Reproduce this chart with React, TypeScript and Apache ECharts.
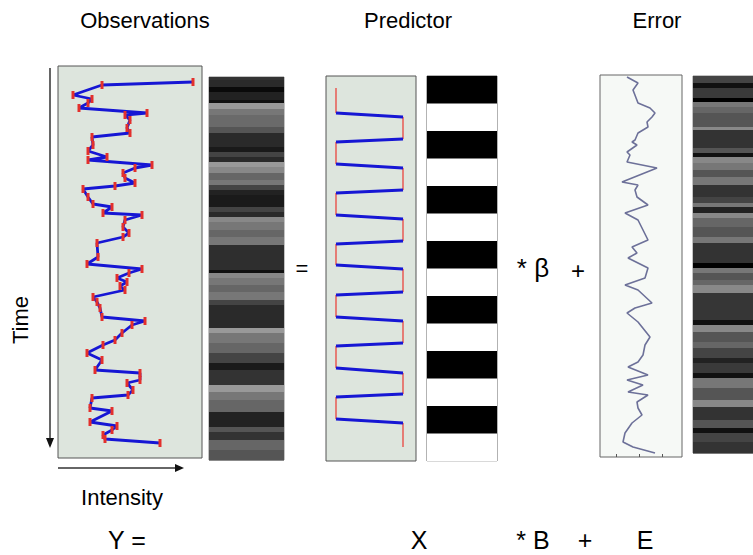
import React, { useEffect, useRef } from "react";
import * as echarts from "echarts";

// Observations: intensity (relative units) vs time (relative units)
const obsIntensity = [135,44,15,34,30,21,89,67,72,69,72,34,35,30,49,30,94,77,65,67,77,57,25,30,35,54,45,84,67,65,71,65,39,40,29,84,71,59,69,62,67,35,39,42,44,87,74,64,57,45,29,44,37,82,82,69,75,70,34,32,54,32,59,54,45,47,102];
const obsTime = [16,19,29,33,37,42,47,49,54,62,67,71,79,85,91,94,99,102,107,112,117,120,123,131,138,141,147,149,154,161,167,171,177,191,198,203,207,212,216,220,224,231,236,242,251,255,259,267,274,279,287,294,304,307,314,317,324,329,332,342,345,356,360,364,369,373,377];

// Observation image strip: band edges (time) and grey levels
const obsStripEdges = [0,3,10,15,23,26,32,38,50,56,70,75,80,85,90,96,103,108,113,118,130,135,140,145,153,160,168,193,196,201,208,215,223,228,251,256,266,276,286,293,308,315,323,335,350,355,363,373,383];
const obsStripGray = [51,42,10,34,17,153,119,106,85,42,26,68,42,153,136,102,119,68,34,26,68,42,136,119,102,119,46,17,136,119,102,119,68,42,153,119,102,68,26,51,153,119,102,34,85,51,102,85];

// Predictor (boxcar): level per block, block start / end times
const predLevel = [0,1,0,1,0,1,0,1,0,1,0,1,0,1];
const predStart = [12,41,66,92,117,143,168,193,219,245,270,297,321,347];
const predEnd = [37,63,88,114,139,165,189,216,241,267,292,318,343,371];

// Error: value vs time
const errValue = [27,38,33,38,50,55,52,47,48,38,35,32,37,27,30,27,57,22,38,35,37,48,25,38,48,32,37,28,48,45,25,38,52,35,27,38,50,45,43,38,28,48,27,43,28,48,37,38,42,32,25,23,33,55];
const errTime = [2,8,15,28,33,38,42,47,52,58,65,67,70,77,80,87,93,107,110,115,122,130,138,145,165,172,178,183,193,203,210,215,228,233,238,247,262,270,280,287,292,300,305,310,317,320,327,333,340,348,358,367,372,378];
const errTicks = [16, 39, 62];

// Error image strip
const errStripEdges = [0,7,12,22,26,31,37,51,54,72,77,81,87,94,101,109,121,127,131,137,142,151,161,167,187,192,197,204,209,217,244,249,256,266,272,282,287,297,302,312,324,331,344,352,357,366,377];
const errStripGray = [68,17,58,0,119,102,85,136,51,85,17,136,119,85,119,51,68,119,34,136,102,85,119,51,0,119,85,102,136,54,17,136,85,102,68,34,58,17,119,85,136,51,85,17,68,51];

const FONT = "'Liberation Sans', Arial, sans-serif";

function bandData(edges: number[], gray: number[]) {
  return gray.map((g, i) => [0.5, edges[i], edges[i + 1], g]);
}

const bandRender = (params: any, api: any) => {
  const a = api.coord([0, api.value(1)]);
  const b = api.coord([1, api.value(2)]);
  const g = api.value(3);
  return {
    type: "rect",
    shape: {
      x: Math.min(a[0], b[0]),
      y: Math.min(a[1], b[1]),
      width: Math.abs(b[0] - a[0]),
      height: Math.abs(b[1] - a[1]) + 0.6,
    },
    style: { fill: `rgb(${g},${g},${g})` },
  };
};

export default function App() {
  const ref = useRef<HTMLDivElement>(null);
  useEffect(() => {
    const chart = echarts.init(ref.current!, null, { renderer: "svg" });
    const plotBg = "#dde5dd";
    const grids = [
      { left: 58, top: 66, width: 144, height: 392, show: true, backgroundColor: plotBg, borderColor: "#555", borderWidth: 1 },
      { left: 209, top: 77, width: 75, height: 383, show: true, backgroundColor: "#333", borderColor: "#888", borderWidth: 1 },
      { left: 326, top: 76, width: 90, height: 385, show: true, backgroundColor: plotBg, borderColor: "#555", borderWidth: 1 },
      { left: 427, top: 76, width: 70, height: 385, show: true, backgroundColor: "#fff", borderColor: "#666", borderWidth: 1 },
      { left: 600, top: 75, width: 82, height: 382, show: true, backgroundColor: "#f6f9f6", borderColor: "#666", borderWidth: 1 },
      { left: 693, top: 76, width: 70, height: 377, show: true, backgroundColor: "#333", borderColor: "#888", borderWidth: 1 },
    ];
    const hidden = { show: false };
    const xAxes: any[] = [
      { type: "value", gridIndex: 0, min: 0, max: 144, ...hidden },
      { type: "value", gridIndex: 1, min: 0, max: 1, ...hidden },
      { type: "value", gridIndex: 2, min: -0.149, max: 1.194, ...hidden },
      { type: "value", gridIndex: 3, min: 0, max: 1, ...hidden },
      {
        type: "value", gridIndex: 4, min: 0, max: 82, show: true, position: "bottom",
        axisLine: { show: false, onZero: false }, axisLabel: { show: false }, splitLine: { show: false },
        axisTick: { show: true, inside: true, length: 3, customValues: errTicks, lineStyle: { color: "#555" } },
      },
      { type: "value", gridIndex: 5, min: 0, max: 1, ...hidden },
    ];
    const yAxes: any[] = [
      { type: "value", gridIndex: 0, min: 0, max: 392, inverse: true, ...hidden },
      { type: "value", gridIndex: 1, min: 0, max: 383, inverse: true, ...hidden },
      { type: "value", gridIndex: 2, min: 0, max: 385, inverse: true, ...hidden },
      { type: "value", gridIndex: 3, min: 0, max: predLevel.length, inverse: true, ...hidden },
      { type: "value", gridIndex: 4, min: 0, max: 382, inverse: true, ...hidden },
      { type: "value", gridIndex: 5, min: 0, max: 377, inverse: true, ...hidden },
    ];

    const redSegs = predLevel.map((lv, i) => ({ coords: [[lv, predStart[i]], [lv, predEnd[i]]] }));
    const blueSegs = predLevel.slice(0, -1).map((lv, i) => ({
      coords: [[lv, predEnd[i]], [predLevel[i + 1], predStart[i + 1]]],
    }));

    const txt = (text: string, x: number, y: number, size: number, extra: any = {}) => ({
      type: "text",
      x, y,
      ...extra,
      style: { text, font: `${size}px ${FONT}`, fill: "#000", align: "center", verticalAlign: "middle" },
    });

    const option: any = {
      animation: false,
      backgroundColor: "#fff",
      grid: grids,
      xAxis: xAxes,
      yAxis: yAxes,
      series: [
        {
          type: "line", xAxisIndex: 0, yAxisIndex: 0,
          data: obsIntensity.map((v, i) => [v, obsTime[i]]),
          symbol: "rect", symbolSize: [3, 8], showSymbol: true,
          itemStyle: { color: "#e3302c" },
          lineStyle: { color: "#1616d4", width: 2.8 },
        },
        {
          type: "custom", xAxisIndex: 1, yAxisIndex: 1,
          data: bandData(obsStripEdges, obsStripGray),
          encode: { x: 0, y: [1, 2] },
          renderItem: bandRender,
        },
        {
          type: "lines", coordinateSystem: "cartesian2d", xAxisIndex: 2, yAxisIndex: 2,
          data: redSegs,
          lineStyle: { color: "#e8625c", width: 1.6, opacity: 1 },
        },
        {
          type: "lines", coordinateSystem: "cartesian2d", xAxisIndex: 2, yAxisIndex: 2,
          data: blueSegs,
          lineStyle: { color: "#1616d4", width: 2.8, opacity: 1 },
        },
        {
          type: "custom", xAxisIndex: 3, yAxisIndex: 3,
          data: predLevel.map((lv, i) => [0.5, i, i + 1, lv * 255]),
          encode: { x: 0, y: [1, 2] },
          renderItem: bandRender,
        },
        {
          type: "line", xAxisIndex: 4, yAxisIndex: 4,
          data: errValue.map((v, i) => [v, errTime[i]]),
          symbol: "none",
          lineStyle: { color: "#6d7199", width: 1.6 },
        },
        {
          type: "custom", xAxisIndex: 5, yAxisIndex: 5,
          data: bandData(errStripEdges, errStripGray),
          encode: { x: 0, y: [1, 2] },
          renderItem: bandRender,
        },
      ],
      graphic: [
        txt("Observations", 145, 20, 22),
        txt("Predictor", 408, 20, 22),
        txt("Error", 657, 20, 22),
        txt("Time", 20, 320, 22, { rotation: Math.PI / 2 }),
        txt("Intensity", 122, 497, 22),
        txt("=", 302, 268, 22),
        txt("* β", 533, 268, 26),
        txt("+", 578, 270, 24),
        txt("Y =", 127, 540, 25),
        txt("X", 419, 540, 25),
        txt("* B", 533, 540, 25),
        txt("+", 585, 540, 25),
        txt("E", 645, 540, 25),
        { type: "line", shape: { x1: 50, y1: 68, x2: 50, y2: 440 }, style: { stroke: "#333", lineWidth: 1.5 } },
        { type: "polygon", shape: { points: [[46, 438], [54, 438], [50, 448]] }, style: { fill: "#111" } },
        { type: "line", shape: { x1: 58, y1: 468, x2: 176, y2: 468 }, style: { stroke: "#333", lineWidth: 1.5 } },
        { type: "polygon", shape: { points: [[175, 464], [175, 472], [184, 468]] }, style: { fill: "#111" } },
      ],
    };
    chart.setOption(option);
    return () => chart.dispose();
  }, []);
  return (
    <div
      ref={ref}
      style={{ position: "absolute", left: 0, top: 0, width: 753, height: 555, background: "#fff" }}
    />
  );
}
